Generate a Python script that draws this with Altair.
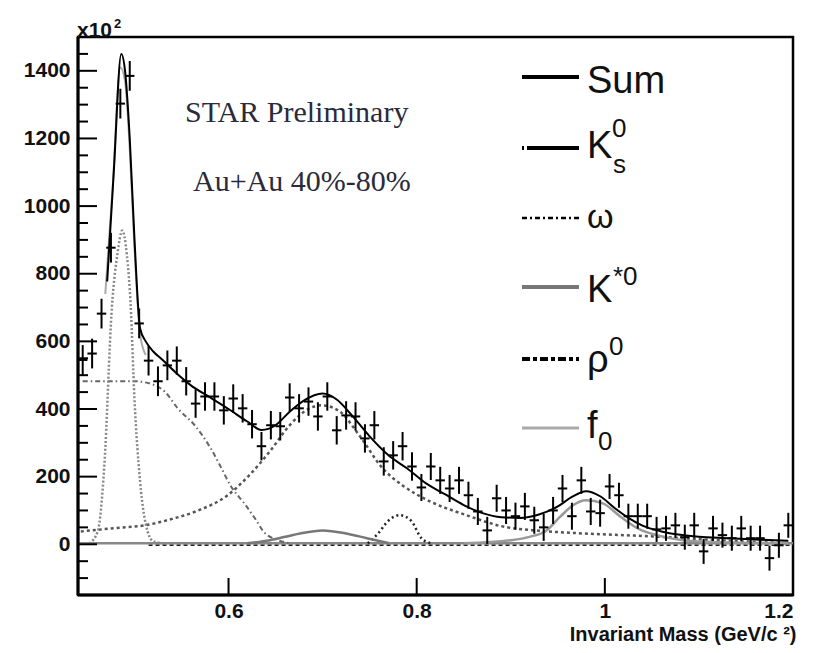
import altair as alt
import pandas as pd

# ---------------- data ----------------
mass = [0.445, 0.455, 0.465, 0.475, 0.485, 0.495, 0.505, 0.515, 0.525, 0.535,
        0.545, 0.555, 0.565, 0.575, 0.585, 0.595, 0.605, 0.615, 0.625, 0.635,
        0.645, 0.655, 0.665, 0.675, 0.685, 0.695, 0.705, 0.715, 0.725, 0.735,
        0.745, 0.755, 0.765, 0.775, 0.785, 0.795,
        0.805, 0.815, 0.825, 0.835, 0.845, 0.855, 0.865, 0.875, 0.885, 0.895,
        0.905, 0.915, 0.925, 0.935, 0.945, 0.955, 0.965, 0.975, 0.985, 0.995,
        1.005, 1.015, 1.025, 1.035, 1.045, 1.055, 1.065, 1.075, 1.085, 1.095,
        1.105, 1.115, 1.125, 1.135, 1.145, 1.155, 1.165, 1.175, 1.185, 1.195]
counts = [545, 564, 682, 877, 1303, 1385, 653, 543, 482, 529,
          543, 482, 416, 437, 437, 396, 431, 402, 355, 290,
          352, 349, 434, 402, 422, 378, 437, 337, 381, 378,
          313, 352, 245, 263, 290, 230,
          168, 230, 189, 165, 189, 145, 97, 41, 136, 100,
          83, 112, 71, 50, 100, 165, 83, 189, 97, 92,
          171, 145, 83, 83, 83, 44, 47, 56, 21, 56,
          -21, 47, 27, 18, 47, 18, 18, -41, -3, 56]
count_err = [44, 44, 44, 44, 44, 44, 44, 44, 44, 44,
             42, 42, 42, 42, 42, 42, 42, 42, 42, 42,
             42, 42, 42, 42, 42, 42, 42, 42, 42, 42,
             42, 42, 42, 42, 42, 42,
             40, 40, 40, 40, 40, 40, 40, 40, 40, 40,
             40, 40, 40, 40, 40, 40, 40, 40, 40, 40,
             37, 37, 37, 37, 37, 37, 37, 37, 37, 37,
             37, 37, 37, 37, 37, 37, 37, 37, 37, 37]
BIN_HALF = 0.005

sum_x = [0.471, 0.478, 0.486, 0.490, 0.495, 0.500, 0.506, 0.512, 0.520, 0.530,
         0.545, 0.560, 0.580, 0.600, 0.620, 0.635, 0.650, 0.665, 0.680, 0.700,
         0.715, 0.730, 0.750, 0.770, 0.790, 0.810, 0.830, 0.850, 0.870, 0.890,
         0.910, 0.930, 0.950, 0.965, 0.980, 0.995, 1.010, 1.025, 1.040, 1.060,
         1.080, 1.100, 1.130, 1.160, 1.195]
sum_y = [777, 1100, 1450, 1400, 1200, 904, 638, 600, 570, 545,
         505, 470, 435, 400, 363, 338, 352, 392, 425, 446,
         428, 385, 319, 263, 224, 180, 148, 116, 92, 80,
         78, 88, 112, 140, 157, 142, 108, 78, 55, 38,
         28, 22, 18, 14, 10]

peak_x = [0.469, 0.477, 0.485, 0.490, 0.495, 0.500, 0.506, 0.512]
peak_y = [740, 1060, 1410, 1370, 1170, 880, 620, 560]

narrow_x = [0.452, 0.461, 0.468, 0.476, 0.482, 0.487, 0.492, 0.496, 0.500, 0.506, 0.514, 0.520, 0.530]
narrow_y = [3, 38, 233, 700, 860, 928, 854, 706, 431, 186, 38, 9, 3]

shoulder_x = [0.445, 0.470, 0.500, 0.520, 0.532, 0.546, 0.564, 0.581, 0.591, 0.602, 0.617, 0.628, 0.638, 0.650, 0.665]
shoulder_y = [482, 482, 482, 472, 452, 402, 352, 284, 233, 174, 120, 77, 35, 15, 3]

broad_x = [0.443, 0.480, 0.511, 0.540, 0.565, 0.599, 0.622, 0.644, 0.665, 0.686, 0.699, 0.718,
           0.739, 0.764, 0.785, 0.814, 0.853, 0.891, 0.930, 0.970, 1.045, 1.120, 1.195]
broad_y = [38, 48, 56, 75, 97, 145, 204, 275, 352, 402, 411, 393,
           322, 224, 174, 127, 86, 53, 40, 33, 24, 12, 3]

omega_x = [0.748, 0.759, 0.770, 0.782, 0.794, 0.805, 0.815]
omega_y = [3, 32, 70, 86, 70, 18, 3]

kstar_x = [0.620, 0.644, 0.660, 0.676, 0.700, 0.725, 0.747, 0.770]
kstar_y = [3, 12, 22, 32, 41, 32, 18, 4]

f0_x = [0.850, 0.900, 0.920, 0.938, 0.952, 0.966, 0.980, 0.998, 1.016, 1.037, 1.055, 1.083, 1.120, 1.195]
f0_y = [3, 12, 22, 41, 80, 115, 130, 121, 83, 44, 27, 12, 6, 3]

base_x = [0.44, 1.2]
base_y = [3, 3]
base2_x = [0.515, 1.2]
base2_y = [-3, -3]

x_tick_labels = [0.6, 0.8, 1.0, 1.2]
x_major_ticks = [0.6, 0.8, 1.0]
y_tick_labels = [0, 200, 400, 600, 800, 1000, 1200, 1400]
y_minor_ticks = [-100, -50, 50, 100, 150, 250, 300, 350, 450, 500, 550, 650, 700, 750,
                 850, 900, 950, 1050, 1100, 1150, 1250, 1300, 1350, 1450]

legend_names = ["Sum", "K", "ω", "K", "ρ", "f"]

# ---------------- chart ----------------
W, H = 715, 558
X = alt.Scale(domain=[0.44, 1.2], nice=False, zero=False)
Y = alt.Scale(domain=[-150, 1500], nice=False, zero=False)
FONT = "Liberation Sans"
SERIF = "Liberation Serif"
INK = "#111111"
X_TITLE = "Invariant Mass (GeV/c ²)"

pts = pd.DataFrame({"m": mass, "n": counts, "e": count_err})
pts["lo"] = pts["n"] - pts["e"]
pts["hi"] = pts["n"] + pts["e"]
pts["ml"] = pts["m"] - BIN_HALF
pts["mh"] = pts["m"] + BIN_HALF

xaxis = alt.Axis(values=x_tick_labels, format="~g", grid=False, ticks=False, domain=False,
                 labelFont=FONT, labelFontSize=21, labelFontWeight="bold", labelColor=INK,
                 labelPadding=5, titleFont=FONT,
                 titleFontSize=20, titleFontWeight="bold", titleColor=INK,
                 titleX=718, titleY=45, titleAlign="right", titleBaseline="alphabetic")
yaxis = alt.Axis(values=y_tick_labels, format="d", grid=False, ticks=False, domain=False,
                 labelFont=FONT, labelFontSize=21, labelFontWeight="bold", labelColor=INK,
                 labelPadding=8)


def xenc(field):
    return alt.X(field, scale=X, axis=xaxis, title=X_TITLE)


def yenc(field):
    return alt.Y(field, scale=Y, axis=yaxis, title="")


def curve(xv, yv, color, width, dash=None):
    df = pd.DataFrame({"x": xv, "y": yv})
    kw = dict(color=color, strokeWidth=width, interpolate="monotone", clip=True)
    if dash:
        kw["strokeDash"] = dash
    return alt.Chart(df).mark_line(**kw).encode(x=xenc("x:Q"), y=yenc("y:Q"))


layers = [
    curve(base_x, base_y, "#888888", 2.5),
    curve(base2_x, base2_y, "#222222", 1.5, [4, 3]),
    curve(broad_x, broad_y, "#555555", 2.5, [3, 3]),
    curve(shoulder_x, shoulder_y, "#666666", 2, [5, 3, 1.5, 3]),
    curve(narrow_x, narrow_y, "#888888", 2.5, [2, 2]),
    curve(omega_x, omega_y, "#222222", 2.5, [2, 3]),
    curve(kstar_x, kstar_y, "#777777", 2.5),
    curve(f0_x, f0_y, "#999999", 2.5),
    curve(peak_x, peak_y, "#aaaaaa", 2),
    curve(sum_x, sum_y, "#000000", 2),
]

vbars = alt.Chart(pts).mark_rule(color="black", strokeWidth=2).encode(
    x=xenc("m:Q"), y=yenc("lo:Q"), y2="hi:Q")
hbars = alt.Chart(pts).mark_rule(color="black", strokeWidth=2).encode(
    x=xenc("ml:Q"), x2="mh:Q", y=yenc("n:Q"))
layers += [vbars, hbars]

# inward ticks
layers.append(alt.Chart(pd.DataFrame({"v": y_tick_labels})).mark_rule(color="black", strokeWidth=2).encode(
    y=yenc("v:Q"), x=alt.value(0), x2=alt.value(19)))
layers.append(alt.Chart(pd.DataFrame({"v": y_minor_ticks})).mark_rule(color="black", strokeWidth=2).encode(
    y=yenc("v:Q"), x=alt.value(0), x2=alt.value(10)))
layers.append(alt.Chart(pd.DataFrame({"v": x_major_ticks})).mark_rule(color="black", strokeWidth=2).encode(
    x=xenc("v:Q"), y=alt.value(H), y2=alt.value(H - 17)))
# thicker left/bottom frame
layers.append(alt.Chart(pd.DataFrame({"k": [0]})).mark_rule(color="black", strokeWidth=3).encode(
    x=alt.value(0), y=alt.value(0), y2=alt.value(H)))
layers.append(alt.Chart(pd.DataFrame({"k": [0]})).mark_rule(color="black", strokeWidth=3).encode(
    x=alt.value(0), x2=alt.value(W), y=alt.value(H)))


def label(txt, px, py, size, font=FONT, weight="normal", color=INK):
    return alt.Chart(pd.DataFrame({"t": [txt]})).mark_text(
        align="left", baseline="alphabetic", font=font, fontSize=size, fontWeight=weight,
        color=color).encode(x=alt.value(px), y=alt.value(py), text="t:N")


def legend_line(py, color, width, dash=None):
    kw = dict(color=color, strokeWidth=width)
    if dash:
        kw["strokeDash"] = dash
    return alt.Chart(pd.DataFrame({"k": [0]})).mark_rule(**kw).encode(
        x=alt.value(444), x2=alt.value(501), y=alt.value(py))


# exponent label
layers.append(label("x10", -1, 0, 21, weight="bold"))
layers.append(label("2", 36, -9, 13, weight="bold"))

# annotations
layers.append(label("STAR Preliminary", 107, 85, 30, font=SERIF, color="#2a2a3a"))
layers.append(label("Au+Au 40%-80%", 115, 154, 30, font=SERIF, color="#2a2a3a"))

# legend
layers += [
    legend_line(40, "#000000", 4),
    legend_line(111, "#000000", 4, [2, 3, 80, 1]),
    legend_line(181, "#000000", 2.5, [5, 3, 2, 3]),
    legend_line(250, "#777777", 4),
    legend_line(322, "#000000", 4, [8, 3, 4, 3]),
    legend_line(391, "#aaaaaa", 3),
]
layers += [
    label(legend_names[0], 509, 56, 38),
    label(legend_names[1], 509, 121, 38),
    label("0", 534, 100, 26),
    label("s", 535, 136, 26),
    label(legend_names[2], 509, 191, 34),
    label(legend_names[3], 509, 265, 38),
    label("*0", 535, 248, 26),
    label(legend_names[4], 509, 335, 38),
    label("0", 531, 318, 26),
    label(legend_names[5], 509, 401, 38),
    label("0", 520, 413, 26),
]

chart = alt.layer(*layers).properties(
    width=W, height=H,
    padding={"left": 70, "top": 29, "right": 14, "bottom": 50},
    autosize=alt.AutoSizeParams(type="none"),
).configure_view(stroke="black", strokeWidth=2.5)

chart.save("out.html", embed_options={"renderer": "svg", "actions": False})
